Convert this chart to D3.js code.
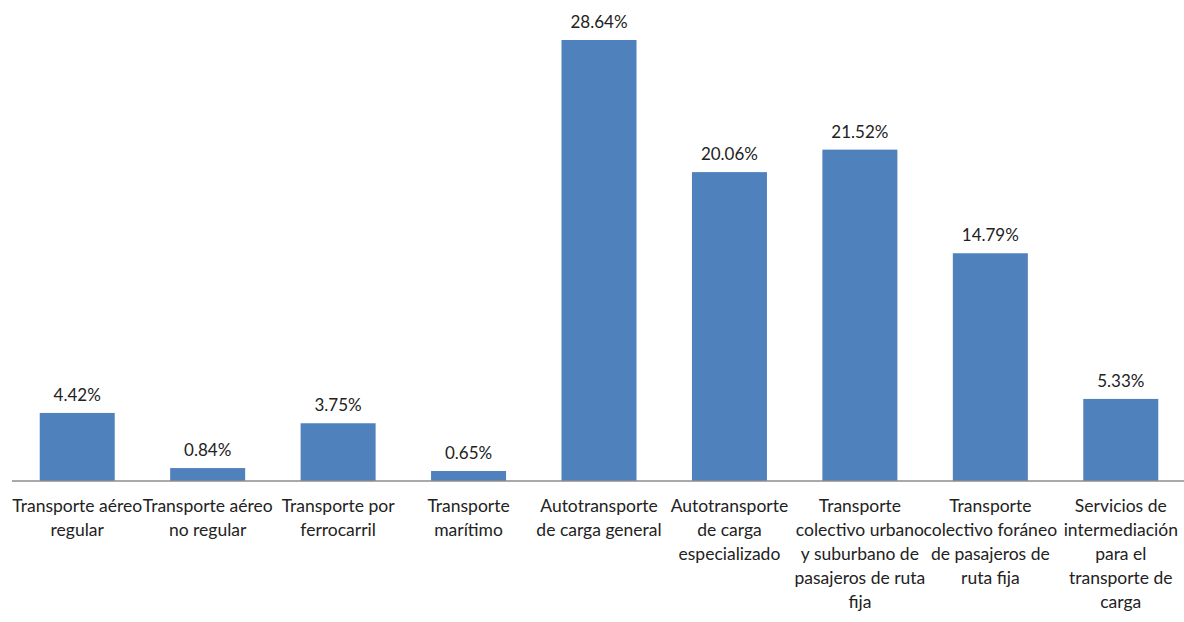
<!DOCTYPE html>
<html>
<head>
<meta charset="utf-8">
<script src="https://cdn.jsdelivr.net/npm/d3@7"></script>
<style>
  body { margin: 0; background: #fff; }
  text { font-family: Lato, "Open Sans", sans-serif; }
</style>
</head>
<body>
<div id="chart"></div>
<script>
const categories = [
  'Transporte aéreo regular',
  'Transporte aéreo no regular',
  'Transporte por ferrocarril',
  'Transporte marítimo',
  'Autotransporte de carga general',
  'Autotransporte de carga especializado',
  'Transporte colectivo urbano y suburbano de pasajeros de ruta fija',
  'Transporte colectivo foráneo de pasajeros de ruta fija',
  'Servicios de intermediación para el transporte de carga'
];
// wrapped lines as in the original axis labels
const tickLines = [
  ['Transporte aéreo', 'regular'],
  ['Transporte aéreo', 'no regular'],
  ['Transporte por', 'ferrocarril'],
  ['Transporte', 'marítimo'],
  ['Autotransporte', 'de carga general'],
  ['Autotransporte', 'de carga', 'especializado'],
  ['Transporte', 'colectivo urbano', 'y suburbano de', 'pasajeros de ruta', 'fija'],
  ['Transporte', 'colectivo foráneo', 'de pasajeros de', 'ruta fija'],
  ['Servicios de', 'intermediación', 'para el', 'transporte de', 'carga']
];
const values = [4.42, 0.84, 3.75, 0.65, 28.64, 20.06, 21.52, 14.79, 5.33];

const width = 1184;
const height = 622;
const margin = { top: 40, right: -2, bottom: 141, left: 12 };

const svg = d3
  .select('#chart')
  .append('svg')
  .attr('width', width)
  .attr('height', height);

// X scale
const x = d3
  .scaleBand()
  .domain(categories)
  .range([margin.left, width - margin.right])
  .paddingInner(0.425)
  .paddingOuter(0.2125);

// Y scale
const y = d3
  .scaleLinear()
  .domain([0, 28.64])
  .range([height - margin.bottom, margin.top]);

// Bars
svg
  .append('g')
  .selectAll('rect')
  .data(values)
  .join('rect')
  .attr('x', (d, i) => x(categories[i]))
  .attr('y', (d) => y(d))
  .attr('width', x.bandwidth())
  .attr('height', (d) => y(0) - y(d))
  .attr('fill', '#4f81bd');

// Value labels
svg
  .append('g')
  .attr('font-size', 17)
  .attr('fill', '#222')
  .attr('text-anchor', 'middle')
  .selectAll('text')
  .data(values)
  .join('text')
  .attr('x', (d, i) => x(categories[i]) + x.bandwidth() / 2)
  .attr('y', (d) => y(d) - 18)
  .attr('dy', '0.35em')
  .text((d) => d.toFixed(2) + '%');

// X axis
const xAxisCall = d3.axisBottom(x).tickSize(0).tickFormat('');
svg
  .append('g')
  .attr('transform', `translate(0,${y(0)})`)
  .call(xAxisCall)
  .call((g) => g.select('.domain').attr('stroke', '#8c8c8c').attr('stroke-width', 1.5).attr('d', `M${margin.left},0H${width}`))
  .call((g) =>
    g
      .selectAll('.tick text')
      .attr('font-size', 17.5)
      .attr('fill', '#222')
      .attr('y', 0)
      .each(function (d, i) {
        const t = d3.select(this);
        tickLines[i].forEach((line, j) => {
          t.append('tspan')
            .attr('x', 0)
            .attr('y', 25 + j * 24)
            .attr('dy', '0.35em')
            .text(line);
        });
      })
  );
</script>
</body>
</html>
